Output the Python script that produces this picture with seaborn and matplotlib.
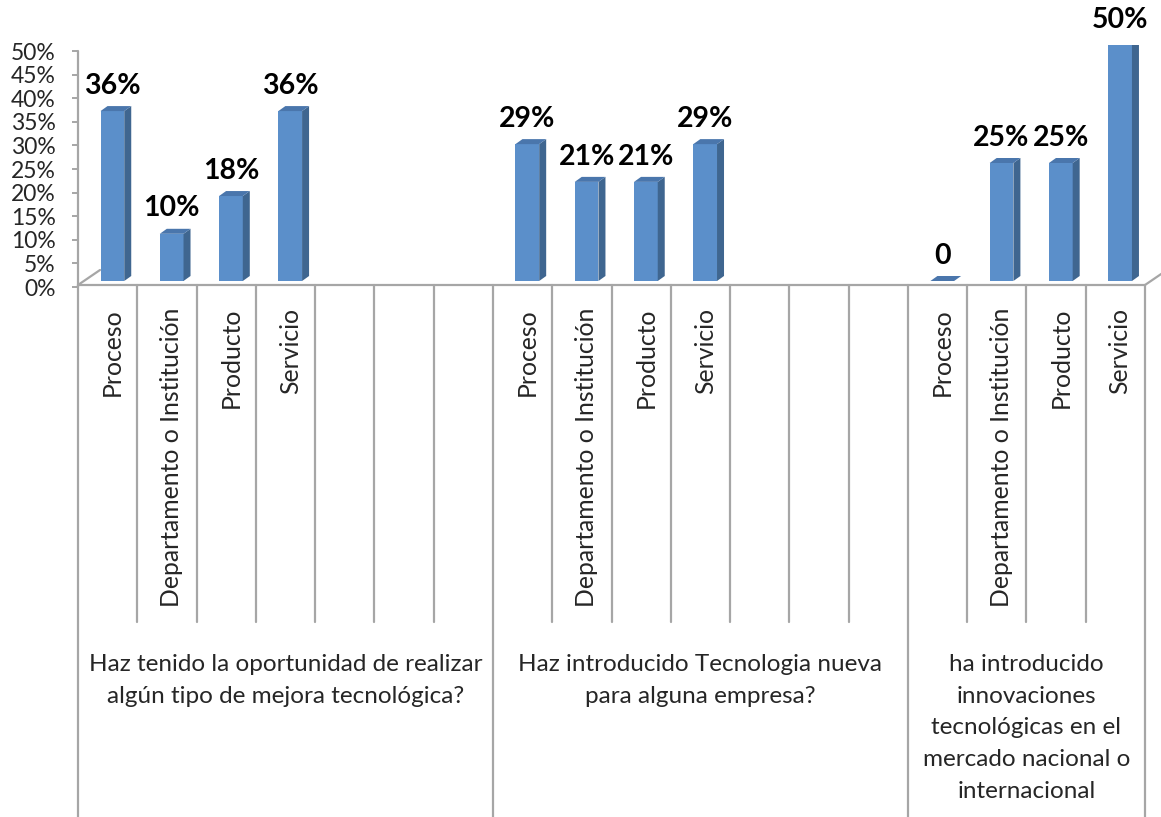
import numpy as np
import pandas as pd
import matplotlib.pyplot as plt
import matplotlib.transforms as mtransforms
from matplotlib.patches import Polygon
import seaborn as sns


# Datos
grupos = ["Haz tenido la oportunidad de realizar\nalgún tipo de mejora tecnológica?",
          "Haz introducido Tecnologia nueva\npara alguna empresa?",
          "ha introducido\ninnovaciones\ntecnológicas en el\nmercado nacional o\ninternacional"]
categorias = ["Proceso", "Departamento o Institución", "Producto", "Servicio"]
casillas_por_grupo = [7, 7, 4]  # el eje de Excel tenia casillas vacias
valores_g1 = [36, 10, 18, 36]
valores_g2 = [29, 21, 21, 29]
valores_g3 = [0, 25, 25, 50]
ticks_y = [0, 5, 10, 15, 20, 25, 30, 35, 40, 45, 50]

FRENTE = '#5b8fca'
LADO = '#3f6690'
TAPA = '#4a76ac'
GRIS = '#a6a6a6'


def crear_dataframe():
    filas = []
    inicio = 0
    for g, valores in enumerate([valores_g1, valores_g2, valores_g3]):
        for i, v in enumerate(valores):
            filas.append({'pos': inicio + i, 'grupo': g, 'categoria': categorias[i], 'valor': v})
        inicio += casillas_por_grupo[g]
    return pd.DataFrame(filas)


def plotar(df):
    sns.set_style("white")
    plt.rcParams['font.family'] = ['Lato', 'DejaVu Sans']

    fig = plt.figure(figsize=(11.61, 8.17), dpi=100)
    W, H = 1161, 817
    ax = fig.add_axes([78 / W, 1 - 281 / H, (1145 - 78) / W, 236 / H])

    sns.barplot(data=df, x='pos', y='valor', native_scale=True, width=0.4,
                color=FRENTE, saturation=1, ax=ax, errorbar=None, linewidth=0)

    n_casillas = sum(casillas_por_grupo)
    ax.set_xlim(-0.5, n_casillas - 0.5)
    ax.set_ylim(0, 50)
    ax.set_xlabel('')
    ax.set_ylabel('')
    ax.set_xticks([])
    for s in ax.spines.values():
        s.set_visible(False)

    # escala px -> datos para la profundidad 3D
    p0 = ax.transData.transform((0, 0))
    p1 = ax.transData.transform((1, 1))
    px_x = p1[0] - p0[0]
    px_y = p1[1] - p0[1]
    dx, dy = 7 / px_x, 5 / px_y

    valores = df['valor'].tolist()
    for patch, v in zip(ax.patches, valores):
        patch.set_x(patch.get_x() + 0.08)
        x0 = patch.get_x()
        w = patch.get_width()
        h = patch.get_height()
        # cara lateral y tapa
        ax.add_patch(Polygon([(x0 + w, 0), (x0 + w + dx, dy), (x0 + w + dx, h + dy), (x0 + w, h)],
                             closed=True, facecolor=LADO, edgecolor='none'))
        ax.add_patch(Polygon([(x0, h), (x0 + dx, h + dy), (x0 + w + dx, h + dy), (x0 + w, h)],
                             closed=True, facecolor=TAPA, edgecolor='none'))
        etiqueta = "0" if v == 0 else f"{v}%"
        ax.annotate(etiqueta, xy=(x0 + w / 2, h), xytext=(0, 12.5), textcoords='offset points',
                    ha='center', va='baseline', fontsize=20.5, fontweight='bold', color='black',
                    annotation_clip=False)

    # eje Y en el plano frontal (desplazado hacia abajo)
    desplazar = mtransforms.ScaledTranslation(0, -6 / 100, fig.dpi_scale_trans)
    ax.plot([-0.5, -0.5], [0, 50], color=GRIS, lw=1.6, clip_on=False,
            transform=ax.transData + desplazar)
    ax.set_yticks(ticks_y)
    ax.set_yticklabels([f"{t}%" for t in ticks_y], fontsize=16.5)
    ax.tick_params(axis='y', left=True, length=4, width=1.4, color=GRIS, pad=12)
    for tick in ax.yaxis.get_major_ticks():
        tick.tick1line.set_transform(tick.tick1line.get_transform() + desplazar)
        tick.label1.set_transform(tick.label1.get_transform() + desplazar)

    # piso
    piso = mtransforms.ScaledTranslation(0, -4 / 100, fig.dpi_scale_trans)
    ax.plot([-0.5, n_casillas - 0.5], [0, 0], color=GRIS, lw=1.6, clip_on=False,
            transform=ax.transData + piso)
    for xe in [-0.5, n_casillas - 0.5]:
        ax.plot([xe, xe + 22 / px_x], [0, 15 / px_y], color=GRIS, lw=1.6, clip_on=False,
                transform=ax.transData + piso)

    # lineas divisorias del eje de categorias
    mezcla = mtransforms.blended_transform_factory(ax.transData, fig.transFigure)
    limites_grupo = list(np.cumsum([0] + casillas_por_grupo))
    for i in range(n_casillas + 1):
        fondo = 0 if i in limites_grupo else 1 - 622 / H
        ax.plot([i - 0.5, i - 0.5], [1 - 285 / H, fondo], color=GRIS, lw=1.6,
                clip_on=False, transform=mezcla)

    # etiquetas de categoria
    for pos, cat in zip(df['pos'], df['categoria']):
        ax.text(pos + 0.08, 1 - 308 / H, cat, rotation=90, ha='center', va='top',
                fontsize=17.8, transform=mezcla)

    # etiquetas de grupo
    for g, texto in enumerate(grupos):
        centro = (limites_grupo[g] + limites_grupo[g + 1]) / 2 - 0.5
        ax.text(centro, 1 - 654 / H, texto, ha='center', va='top', multialignment='center',
                fontsize=17.5, linespacing=1.63, transform=mezcla)

    fig.savefig('out.png', dpi=100)


if __name__ == "__main__":
    df = crear_dataframe()
    plotar(df)
